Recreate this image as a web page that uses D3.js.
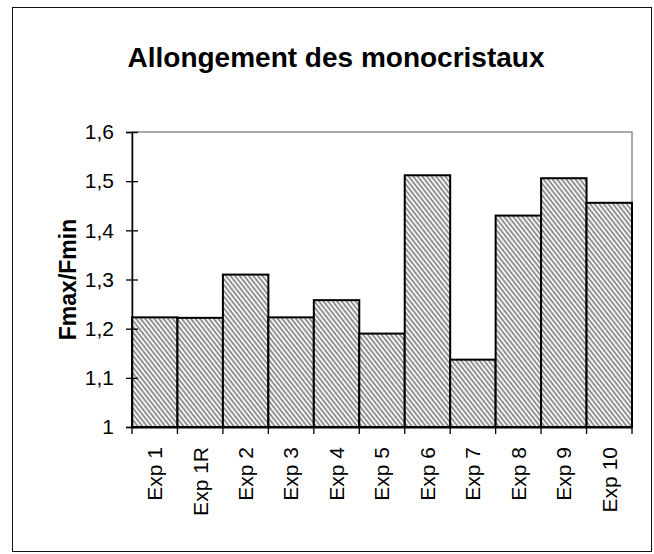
<!DOCTYPE html>
<html><head><meta charset="utf-8">
<script src="https://cdn.jsdelivr.net/npm/d3@7"></script>
<style>body{margin:0;background:#fff} svg{display:block}</style>
</head><body>
<script>
// Data
const categories = ["Exp 1","Exp 1R","Exp 2","Exp 3","Exp 4","Exp 5","Exp 6","Exp 7","Exp 8","Exp 9","Exp 10"];
const ratios = [1.223,1.222,1.31,1.223,1.258,1.19,1.512,1.137,1.43,1.506,1.456];
const yTicks = [1,1.1,1.2,1.3,1.4,1.5,1.6];
const yTickLabels = ["1","1,1","1,2","1,3","1,4","1,5","1,6"];
const titleText = "Allongement des monocristaux";
const yTitle = "Fmax/Fmin";

const W = 654, H = 554;
const plot = {left: 132, right: 632, top: 132, bottom: 427};
const font = "'Liberation Sans', Arial, sans-serif";

const svg = d3.select("body").append("svg").attr("width", W).attr("height", H)
  .style("font-family", font);

// diagonal hatch fill for the bars
const pat = svg.append("defs").append("pattern")
  .attr("id", "hatch").attr("patternUnits", "userSpaceOnUse")
  .attr("width", 3.6).attr("height", 3.6)
  .attr("patternTransform", "rotate(-38)");
pat.append("rect").attr("width", 3.6).attr("height", 3.6).attr("fill", "#f4f4f4");
pat.append("line").attr("x1", 1).attr("x2", 1).attr("y1", 0).attr("y2", 3.6)
  .attr("stroke", "#4a4a4a").attr("stroke-width", 1.05);

// outer frame
svg.append("rect").attr("x", 12.5).attr("y", 7.5).attr("width", 639).attr("height", 544)
  .attr("fill", "none").attr("stroke", "#111").attr("stroke-width", 1);

const x = d3.scaleBand().domain(categories).range([plot.left, plot.right]).padding(0);
const y = d3.scaleLinear().domain([1, 1.6]).range([plot.bottom, plot.top]);

// plot area border
svg.append("rect").attr("x", plot.left).attr("y", plot.top)
  .attr("width", plot.right - plot.left).attr("height", plot.bottom - plot.top)
  .attr("fill", "none").attr("stroke", "#555").attr("stroke-width", 1);

// bars
svg.append("g").selectAll("rect").data(categories).join("rect")
  .attr("x", d => x(d))
  .attr("y", (d, i) => y(ratios[i]))
  .attr("width", x.bandwidth())
  .attr("height", (d, i) => y(1) - y(ratios[i]))
  .attr("fill", "url(#hatch)")
  .attr("stroke", "#000").attr("stroke-width", 2);

// y axis
const yAxis = svg.append("g").attr("transform", `translate(${plot.left},0)`)
  .call(d3.axisLeft(y).tickValues(yTicks).tickSize(6).tickPadding(12)
    .tickFormat((d, i) => yTickLabels[i]));
yAxis.select(".domain").attr("stroke", "#000").attr("stroke-width", 1.5);
yAxis.selectAll(".tick line").attr("x1", -6).attr("x2", 6).attr("stroke", "#000").attr("stroke-width", 1.3);
yAxis.selectAll(".tick text").attr("font-size", 21).attr("fill", "#000").style("font-family", font);

// x axis
const xAxis = svg.append("g").attr("transform", `translate(0,${plot.bottom})`)
  .call(d3.axisBottom(x).tickSize(0).tickPadding(0));
xAxis.select(".domain").attr("stroke", "#000").attr("stroke-width", 2);
xAxis.selectAll(".tick text")
  .attr("font-size", 21).attr("fill", "#000").style("font-family", font)
  .attr("text-anchor", "end")
  .attr("transform", "rotate(-90)")
  .attr("x", -20).attr("y", 0).attr("dy", "0.35em");
// category-boundary tick marks
const bounds = categories.map(c => x(c)).concat([x(categories[categories.length - 1]) + x.bandwidth()]);
xAxis.append("g").selectAll("line").data(bounds).join("line")
  .attr("x1", d => d).attr("x2", d => d).attr("y1", 0).attr("y2", 7)
  .attr("stroke", "#000").attr("stroke-width", 1.3);

// titles
svg.append("text").attr("x", 336).attr("y", 67).attr("text-anchor", "middle")
  .attr("font-size", 28).attr("font-weight", "bold").text(titleText);
svg.append("text").attr("transform", `translate(${68},${(plot.top + plot.bottom) / 2}) rotate(-90)`)
  .attr("text-anchor", "middle").attr("dy", "0.35em")
  .attr("font-size", 23).attr("font-weight", "bold").text(yTitle);
</script>
</body></html>
